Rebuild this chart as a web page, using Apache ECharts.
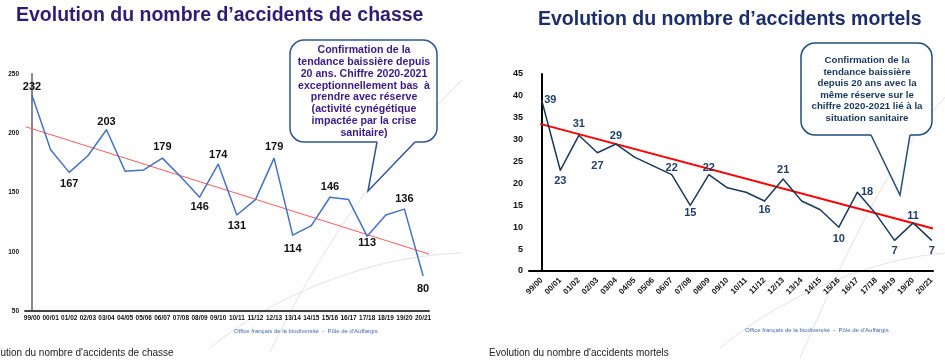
<!DOCTYPE html>
<html>
<head>
<meta charset="utf-8">
<script src="https://cdn.jsdelivr.net/npm/echarts@6/dist/echarts.min.js"></script>
<style>
html,body{margin:0;padding:0;background:#fff;}
#c{width:945px;height:360px;}
</style>
</head>
<body>
<div id="c"></div>
<script>
// ---- data ----
const categories = ['99/00','00/01','01/02','02/03','03/04','04/05','05/06','06/07','07/08','08/09','09/10','10/11','11/12','12/13','13/14','14/15','15/16','16/17','17/18','18/19','19/20','20/21'];
const accidentsChasse = [232,186,167,181,203,168,169,179,163,146,174,131,144,179,114,122,146,144,113,131,136,80];
const accidentsMortels = [39,23,31,27,29,26,24,22,15,22,19,18,16,21,16,14,10,18,13,7,11,7];
const yTicksChasse = [50,100,150,200,250];
const yTicksMortels = [0,5,10,15,20,25,30,35,40,45];
// trend lines: [category index, value] at both ends
const trendChasseX = [-0.34, 21.32];
const trendChasseY = [205.5, 98];
const trendMortelsX = [-0.08, 21.07];
const trendMortelsY = [33.6, 9.7];

// ---- label styling (which points show a value label, and where) ----
const labelStyleChasse = {
  0:['top',2,[3,0]], 2:['bottom',6,[-3,0]], 4:['top',2,[2,0]], 7:['top',5,[5,0]],
  9:['bottom',4,[3,0]], 10:['top',3,[0,0]], 11:['bottom',5,[-2,0]], 13:['top',5,[1,0]],
  14:['bottom',8,[3,0]], 16:['top',4,[0,0]], 18:['bottom',1,[1,0]], 20:['top',4,[1,0]],
  21:['bottom',8,[0,0]]
};
const labelStyleMortels = {
  0:['right',2,[0,0]], 1:['bottom',5,[3,0]], 2:['top',5,[0,0]], 3:['bottom',7,[-1,0]],
  4:['top',2,[1,0]], 7:['top',1,[1,0]], 8:['bottom',2,[-3,0]], 9:['top',1,[-1,0]],
  12:['bottom',3,[0,0]], 13:['top',3,[0,0]], 16:['bottom',6,[0,0]], 17:['right',3,[0,0]],
  19:['bottom',5,[-1,0]], 20:['top',1,[0,0]], 21:['bottom',5,[0,0]]
};

function buildData(values, labelStyle) {
  return values.map((v, i) => {
    const item = { value: [i, v] };
    const s = labelStyle[i];
    if (s) item.label = { show: true, position: s[0], distance: s[1], offset: s[2] };
    return item;
  });
}

const chart = echarts.init(document.getElementById('c'), null, { renderer: 'canvas' });
const FONT = 'Liberation Sans, Arial, sans-serif';
const arcStyle = { fill: null, stroke: '#e4e4e4', lineWidth: 1 };

const option = {
  animation: false,
  backgroundColor: '#ffffff',
  grid: [
    { left: 25, top: 74, width: 404, height: 237 },
    { left: 529, top: 74, width: 404, height: 197 }
  ],
  xAxis: [
    {
      gridIndex: 0, type: 'value', min: -0.376, max: 21.32,
      axisLine: { show: true, onZero: false, lineStyle: { color: '#444', width: 2 } },
      axisTick: { show: false },
      splitLine: { show: false },
      axisLabel: {
        customValues: categories.map((c, i) => i),
        formatter: v => categories[Math.round(v)] || '',
        fontFamily: FONT, fontSize: 6.5, fontWeight: 'bold', color: '#111', margin: 4
      }
    },
    {
      gridIndex: 1, type: 'value', min: -0.684, max: 21.07,
      axisLine: { show: true, onZero: false, lineStyle: { color: '#000', width: 2 } },
      axisTick: { show: false },
      splitLine: { show: false },
      axisLabel: {
        customValues: categories.map((c, i) => i),
        formatter: v => categories[Math.round(v)] || '',
        rotate: 45,
        fontFamily: FONT, fontSize: 8, fontWeight: 'bold', color: '#111', margin: 8
      }
    }
  ],
  yAxis: [
    {
      gridIndex: 0, type: 'value', min: yTicksChasse[0], max: yTicksChasse[yTicksChasse.length-1], interval: 50,
      axisLine: { show: true, lineStyle: { color: '#888', width: 2 } },
      axisTick: { show: false },
      splitLine: { show: false },
      axisLabel: { fontFamily: FONT, fontSize: 6.5, fontWeight: 'bold', color: '#111', margin: 6 }
    },
    {
      gridIndex: 1, type: 'value', min: yTicksMortels[0], max: yTicksMortels[yTicksMortels.length-1], interval: 5,
      axisLine: { show: true, lineStyle: { color: '#000', width: 2 } },
      axisTick: { show: false },
      splitLine: { show: false },
      axisLabel: { fontFamily: FONT, fontSize: 9, fontWeight: 'bold', color: '#111', margin: 6 }
    }
  ],
  series: [
    {
      type: 'line', xAxisIndex: 0, yAxisIndex: 0, z: 3,
      data: trendChasseX.map((x, i) => [x, trendChasseY[i]]),
      showSymbol: false, lineStyle: { color: '#ff5a5a', width: 1 }, silent: true
    },
    {
      type: 'line', xAxisIndex: 0, yAxisIndex: 0, z: 4,
      data: buildData(accidentsChasse, labelStyleChasse),
      showSymbol: true, symbol: 'circle', symbolSize: 1,
      itemStyle: { color: '#4472c4' },
      lineStyle: { color: '#4472c4', width: 1.5 },
      labelLayout: { hideOverlap: false },
      label: { show: false, fontFamily: FONT, fontSize: 11, fontWeight: 'bold', color: '#111',
               formatter: p => p.value[1] }
    },
    {
      type: 'line', xAxisIndex: 1, yAxisIndex: 1, z: 3,
      data: trendMortelsX.map((x, i) => [x, trendMortelsY[i]]),
      showSymbol: false, lineStyle: { color: '#ff0000', width: 2 }, silent: true
    },
    {
      type: 'line', xAxisIndex: 1, yAxisIndex: 1, z: 4,
      data: buildData(accidentsMortels, labelStyleMortels),
      showSymbol: true, symbol: 'circle', symbolSize: 1,
      itemStyle: { color: '#1b3a5c' },
      lineStyle: { color: '#1b3a5c', width: 1.5 },
      labelLayout: { hideOverlap: false },
      label: { show: false, fontFamily: FONT, fontSize: 11, fontWeight: 'bold', color: '#1f3f66',
               formatter: p => p.value[1] }
    }
  ],
  graphic: [
    // decorative background arcs
    { type: 'bezierCurve', z: -10, shape: { x1: 270, y1: 352, cpx1: 300, cpy1: 290, cpx2: 360, cpy2: 180, x2: 462, y2: 80 }, style: arcStyle },
    { type: 'bezierCurve', z: -10, shape: { x1: 210, y1: 348, cpx1: 280, cpy1: 290, cpx2: 380, cpy2: 255, x2: 462, y2: 253 }, style: arcStyle },
    { type: 'bezierCurve', z: -10, shape: { x1: 800, y1: 358, cpx1: 830, cpy1: 290, cpx2: 880, cpy2: 170, x2: 945, y2: 97 }, style: arcStyle },
    { type: 'bezierCurve', z: -10, shape: { x1: 720, y1: 348, cpx1: 790, cpy1: 290, cpx2: 880, cpy2: 258, x2: 945, y2: 253 }, style: arcStyle },
    // titles
    { type: 'text', x: 16, y: 16, style: { text: 'Evolution du nombre d’accidents de chasse', font: 'bold 19.5px ' + FONT, fill: '#2e1d74', verticalAlign: 'middle' } },
    { type: 'text', x: 538, y: 20, style: { text: 'Evolution du nombre d’accidents mortels', font: 'bold 19.5px ' + FONT, fill: '#1c2f6b', verticalAlign: 'middle' } },
    // left callout
    { type: 'rect', z: 10, shape: { x: 290, y: 40, width: 147, height: 102, r: 14 }, style: { fill: '#fff', stroke: '#2f5597', lineWidth: 1.5 } },
    { type: 'polygon', z: 11, shape: { points: [[377.5,138],[377,142],[368,191],[415,142],[414.5,138]] }, style: { fill: '#fff', stroke: null } },
    { type: 'polyline', z: 12, shape: { points: [[377,142],[368,191],[415,142]] }, style: { fill: null, stroke: '#2f5597', lineWidth: 1.5 } },
    { type: 'text', z: 13, x: 364, y: 91.5, style: {
        text: 'Confirmation de la\ntendance baissière depuis\n20 ans. Chiffre 2020-2021\nexceptionnellement bas  à\nprendre avec réserve\n(activité cynégétique\nimpactée par la crise\nsanitaire)',
        font: 'bold 10.6px ' + FONT, fill: '#3a1a8a', align: 'center', verticalAlign: 'middle', lineHeight: 11.8 } },
    // right callout
    { type: 'rect', z: 10, shape: { x: 801, y: 43, width: 131, height: 92, r: 14 }, style: { fill: '#fff', stroke: '#1f4e79', lineWidth: 1.5 } },
    { type: 'polygon', z: 11, shape: { points: [[871.5,131],[871,135],[900,195],[910,135],[909.5,131]] }, style: { fill: '#fff', stroke: null } },
    { type: 'polyline', z: 12, shape: { points: [[871,135],[900,195],[910,135]] }, style: { fill: null, stroke: '#1f4e79', lineWidth: 1.5 } },
    { type: 'text', z: 13, x: 867, y: 89.5, style: {
        text: 'Confirmation de la\ntendance baissière\ndepuis 20 ans avec la\nmême réserve sur le\nchiffre 2020-2021 lié à la\nsituation sanitaire',
        font: 'bold 9.7px ' + FONT, fill: '#17375e', align: 'center', verticalAlign: 'middle', lineHeight: 11.5 } },
    // source footers
    { type: 'text', x: 234, y: 331, style: { text: 'Office français de la biodiversité  -  Pôle de d\'Auffargis', font: '6px ' + FONT, fill: '#3f6cb0', verticalAlign: 'middle' } },
    { type: 'text', x: 745, y: 330, style: { text: 'Office français de la biodiversité  -  Pôle de d\'Auffargis', font: '6px ' + FONT, fill: '#3f6cb0', verticalAlign: 'middle' } },
    // captions
    { type: 'text', x: -19, y: 353, style: { text: 'Evolution du nombre d\'accidents de chasse', font: '10px ' + FONT, fill: '#222', verticalAlign: 'middle' } },
    { type: 'text', x: 489, y: 353, style: { text: 'Evolution du nombre d\'accidents mortels', font: '10px ' + FONT, fill: '#222', verticalAlign: 'middle' } }
  ]
};
chart.setOption(option);
</script>
</body>
</html>
